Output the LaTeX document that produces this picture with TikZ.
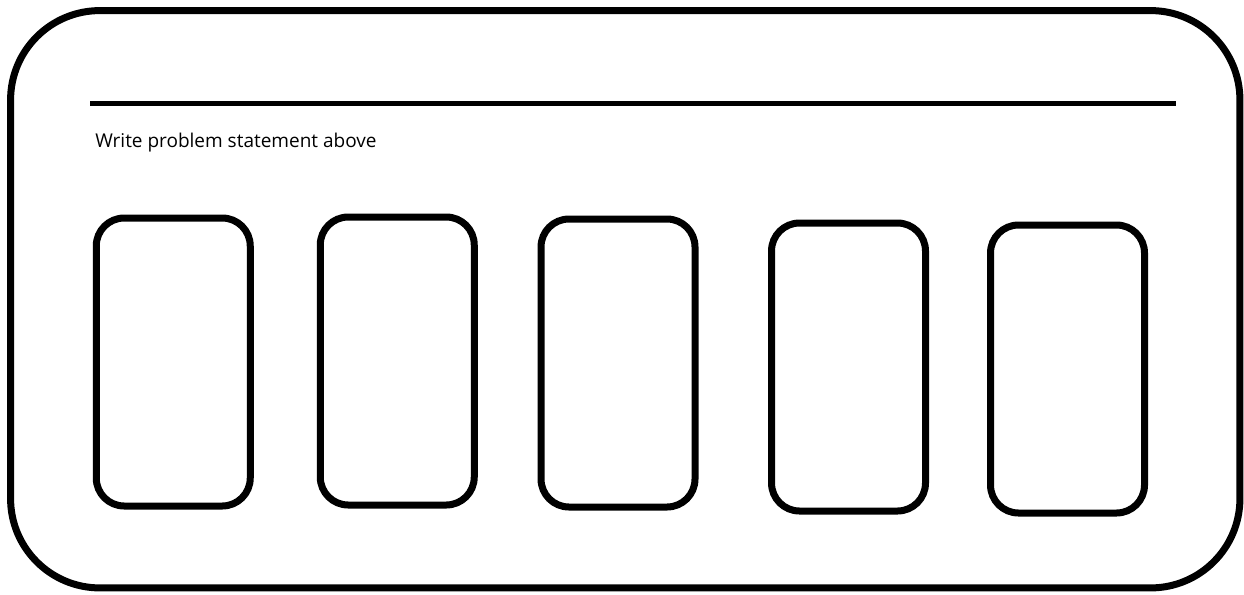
\documentclass[tikz,border=0pt]{standalone}
\usepackage{fontspec}
\setmainfont{Open Sans}
\usepackage{tikz}
\usetikzlibrary{positioning}

\begin{document}
\begin{tikzpicture}[x=0.75pt, y=-0.75pt, font=\fontsize{14.25pt}{16pt}\selectfont,
    frame/.style={rectangle, draw, line width=5.25pt, rounded corners=67pt, minimum width=922pt, minimum height=433pt},
    card/.style={rectangle, draw, line width=5.25pt, rounded corners=21pt, minimum width=115.5pt, minimum height=216pt}]
    \useasboundingbox (0,0) rectangle (1244,594);
    \node[frame] (outer) at (625.25,299.25) {};
    \coordinate (rulel) at (90,103.5);
    \coordinate (ruler) at (1176,103.5);
    \draw[line width=3.75pt] (rulel) -- (ruler);
    \node[anchor=base west, inner sep=0pt] (hint) at (95,147.3) {Write problem statement above};
    \node[card] (c1) at (173.25,362) {};
    \node[card] (c2) at (397.25,361) {};
    \node[card] (c3) at (618,363) {};
    \node[card] (c4) at (848.5,367) {};
    \node[card] (c5) at (1067.5,369) {};
\end{tikzpicture}
\end{document}
